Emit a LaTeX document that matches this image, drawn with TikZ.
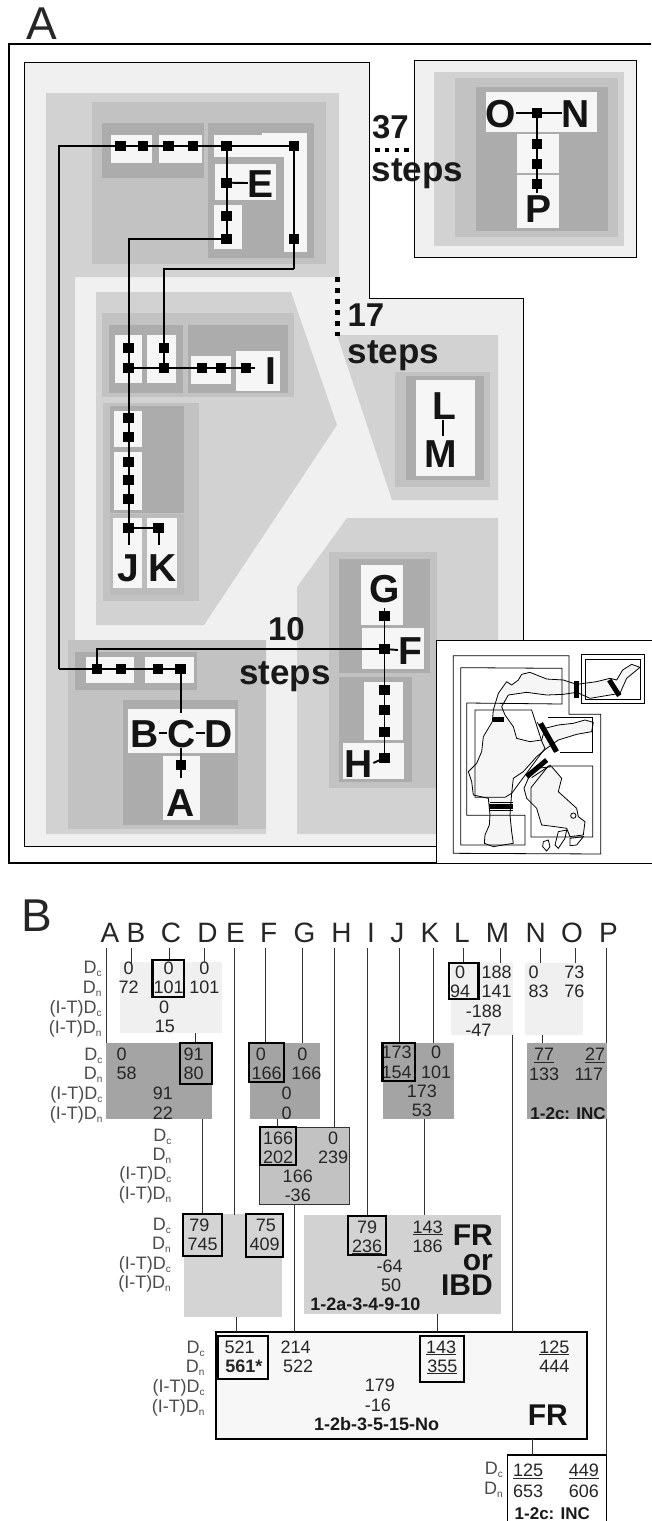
\documentclass[tikz,border=0pt]{standalone}
\usepackage{fontspec}
\setmainfont{Liberation Sans}
\definecolor{bgA}{HTML}{F0F0F0}
\definecolor{gA}{HTML}{D2D2D2}
\definecolor{gB}{HTML}{C2C2C2}
\definecolor{gC}{HTML}{ACACAC}
\definecolor{gD}{HTML}{A4A4A4}
\definecolor{wbox}{HTML}{F6F6F6}
\newcommand{\fsz}[1]{\fontsize{#1}{#1}\selectfont}
\newcounter{nc}
% number nodes placed by crop coordinates
\newcommand{\nmA}[3]{\stepcounter{nc}\node[numtxt] (nm\arabic{nc}) at ({#1/2.408},{880+#2/3}) {#3};}
\newcommand{\nmB}[3]{\stepcounter{nc}\node[numtxt] (nm\arabic{nc}) at ({#1/2.408},{1200+#2/3}) {#3};}
\newcommand{\Dc}{D\raisebox{-3pt}{\fsz{10}c}}
\newcommand{\Dn}{D\raisebox{-3pt}{\fsz{10}n}}
\newcommand{\ITc}{(I-T)\Dc}
\newcommand{\ITn}{(I-T)\Dn}
% four-row label block: right edge, y of each row
\newcommand{\labs}[6]{%
 \node[labtxt] (la#1a) at (#2,#3) {\Dc};
 \node[labtxt] (la#1b) at (#2,#4) {\Dn};
 \node[labtxt] (la#1c) at (#2,#5) {\ITc};
 \node[labtxt] (la#1d) at (#2,#6) {\ITn};}
% vertical connector between two named coordinates
\newcommand{\conn}[4]{%
 \coordinate (#1t) at (#2,#3);
 \coordinate (#1b) at (#2,#4);
 \draw[tree] (#1t) -- (#1b);}
\tikzset{
 sq/.style={fill=black,inner sep=0pt,minimum width=10.5pt,minimum height=10pt},
 path1/.style={black,line width=1.9pt},
 thinl/.style={black,line width=1.1pt},
 letter/.style={font=\fsz{39}\bfseries,inner sep=0pt,text height=28pt,text depth=0pt,text=black!92},
 steptxt/.style={font=\fsz{33}\bfseries,inner sep=0pt,text=black!90},
 stepword/.style={font=\fsz{35}\bfseries,inner sep=0pt,text=black!90,text height=25pt,text depth=7pt},
 dots/.style={black,line width=5pt,dash pattern=on 5pt off 6pt},
 dotsh/.style={black,line width=4.5pt,dash pattern=on 4.5pt off 5.3pt},
 numtxt/.style={font=\fsz{18},inner sep=0pt,text height=12.8pt,text depth=0pt,text=black!85},
 labtxt/.style={font=\fsz{18},inner sep=0pt,anchor=east,text=black!70,text height=13pt,text depth=0pt},
 boldsm/.style={font=\fsz{18}\bfseries,inner sep=0pt,text=black!90,text height=13pt,text depth=0pt},
 bigbold/.style={font=\fsz{30}\bfseries,inner sep=0pt,text=black!92},
 headl/.style={font=\fsz{28},inner sep=0pt,text=black!85,text height=20pt,text depth=0pt},
 panel/.style={font=\fsz{46},inner sep=0pt,text=black!85,text height=33pt,text depth=0pt},
 tree/.style={black!80,line width=.9pt},
 hbox/.style={black,line width=2.2pt},
 mapl/.style={black,line width=.8pt},
 mapb/.style={black,line width=5pt},
}
\begin{document}
\begin{tikzpicture}[x=1pt,y=-1pt]
\useasboundingbox (0,0) rectangle (651,1521);
\fill[white] (0,0) rectangle (651,1521);

% ---------------- panel A ----------------
\node[panel] (pA) at (41.5,23) {A};
\draw[black,line width=1.5pt] (651,44) -- (9,44) -- (9,863) -- (651,863);

% main region
\draw[black,line width=.9pt,fill=bgA] (24.5,62) -- (369.6,62) -- (369.6,298.5) -- (523,298.5) -- (523,846.7) -- (24.5,846.7) -- cycle;
% light band
\fill[gA] (46,93) -- (339,93) -- (339,277) -- (75,277) -- (75,640) -- (266,640) -- (266,834) -- (46,834) -- cycle;
% I/J/K polygon
\fill[gA] (96,292) -- (291,292) -- (337,425) -- (204,625) -- (96,625) -- cycle;
% L-M polygon
\fill[gA] (337,335) -- (498,335) -- (498,500) -- (392,500) -- cycle;
% F-H polygon
\fill[gA] (347,518) -- (498,518) -- (498,834) -- (297,834) -- (297,587) -- cycle;

% upper block
\fill[gB] (92,102) rectangle (326,264);
\fill[gC] (102,123) rectangle (203.5,178);
\fill[gC] (208,123) rectangle (313.5,258);
\fill[wbox] (110.5,135) rectangle (152.4,163);
\fill[wbox] (159,135) rectangle (202,163);
\fill[wbox] (214,135) rectangle (306.5,157);
\fill[wbox] (262,133) rectangle (306.5,157);
\fill[wbox] (283.6,133) rectangle (306.5,252);
\fill[wbox] (215,164) rectangle (276,200);
\fill[wbox] (214,205) rectangle (242,249);

% I row block
\fill[gB] (102,313) rectangle (293.6,397);
\fill[gC] (109,325) rectangle (183,393);
\fill[gC] (188,325) rectangle (288,393);
\fill[wbox] (114.6,335) rectangle (142.4,383);
\fill[wbox] (147.4,335) rectangle (175.7,383);
\fill[wbox] (191,356) rectangle (230.5,384);
\fill[wbox] (235.5,351) rectangle (280,391);

% J/K block
\fill[gB] (103,403) rectangle (198.5,601);
\fill[gC] (110,406) rectangle (184,513);
\fill[gB!70!gC] (110,514) rectangle (184,595);
\fill[wbox] (114,411) rectangle (142.4,447);
\fill[wbox] (114,452) rectangle (142.4,510);
\fill[wbox] (113,518) rectangle (142.4,588);
\fill[wbox] (147.4,518) rectangle (176.5,588);

% L-M block
\fill[gB] (394.5,372) rectangle (490,487);
\fill[gC] (406,376) rectangle (484,480);
\fill[wbox] (416,380) rectangle (474.6,476);

% F-H block
\fill[gB] (329,552) rectangle (437,788);
\fill[gC] (339,559) rectangle (430,673);
\fill[gC] (339,677) rectangle (412,782);
\fill[wbox] (361,565) rectangle (403,625);
\fill[wbox] (362,628) rectangle (423.6,669);
\fill[wbox] (364,682) rectangle (403,740);
\fill[wbox] (342.6,743) rectangle (403.6,779);

% bottom left block
\fill[gB] (68,640) rectangle (266,829);
\fill[gC] (75,652) rectangle (197,690);
\fill[wbox] (86,657) rectangle (133.7,683);
\fill[wbox] (145,657) rectangle (194,683);
\fill[gC] (122.5,700) rectangle (237.5,825);
\fill[wbox] (128,709) rectangle (235,753);
\fill[wbox] (163,756) rectangle (200,820);

% top right panel
\draw[black,line width=.9pt,fill=bgA] (414,60) rectangle (636,257);
\fill[gA] (433.6,72) rectangle (624,246);
\fill[gB] (455,78) rectangle (617.5,237);
\fill[gC] (476,87) rectangle (607.5,231);
\fill[wbox] (486,92) rectangle (597,132);
\fill[wbox] (516.6,134) rectangle (559,173);
\fill[wbox] (516.6,175) rectangle (559,228);

% squares
\foreach \nam/\px/\py in {t1/120.4/146,t2/143/146,t3/168.6/146,t4/193/146,t5/226.7/146,t6/294/146,
 e1/226.7/182.7,e2/226.7/216,e3/226.7/238.7,r1/294/238.7,
 j1/128.7/348,i2/164/348,j2/128.7/368,i3/164/368,k1/202/368,k2/221/368,k3/246/368,
 j3/128.7/418,j4/128.7/437,j5/128.7/462,j6/128.7/480,j7/128.7/499,j8/128.7/528,kk/158.6/528,
 b1/97/669,b2/121/669,b3/158/669,b4/180.6/669,
 f1/384.5/616,f2/384.5/649,f3/384.5/690,f4/384.5/710,f5/384.5/732,f6/384.5/758,
 n1/537/113,p1/537/144,p2/537/164,p3/537/184,a1/181/765}
 {\node[sq] (\nam) at (\px,\py) {};}

% letters
\node[letter] (lO) at (501,113) {O};
\node[letter] (lN) at (576,113) {N};
\node[letter] (lP) at (538.6,208) {P};
\node[letter] (lE) at (261,183) {E};
\node[letter] (lI) at (271,370) {I};
\node[letter] (lJ) at (128,567) {J};
\node[letter] (lK) at (163,567) {K};
\node[letter] (lL) at (444,405) {L};
\node[letter] (lM) at (441,453) {M};
\node[letter] (lG) at (385,588) {G};
\node[letter] (lF) at (410,650) {F};
\node[letter] (lH) at (359,763) {H};
\node[letter] (lB) at (144.5,733) {B};
\node[letter] (lC) at (181.5,733) {C};
\node[letter] (lD) at (219,733) {D};
\node[letter] (lA) at (180.6,802) {A};

% path coordinates
\coordinate (c1) at (59.4,146);
\coordinate (c2) at (59.4,669);
\coordinate (c3) at (97,649);
\coordinate (cr) at (294,269);
\coordinate (iend) at (255,368);
\coordinate (jend) at (128.7,545);
\coordinate (kend) at (158.6,545);
\coordinate (bc) at (180.6,713);
\coordinate (gtop) at (384.5,608);
\coordinate (atop) at (181,748);
\coordinate (abot) at (181,778);
\coordinate (pbot) at (537,193);
\coordinate (lmt) at (443,420);
\coordinate (lmb) at (443,436);

% connectors
\draw[path1] (c2) -- (c1) -- (t1.center) -- (t2.center) -- (t3.center) -- (t4.center) -- (t5.center) -- (t6.center);
\draw[path1] (c2) -- (b1.center) -- (b2.center) -- (b3.center) -- (b4.center) -- (bc);
\draw[path1] (b1.center) -- (c3) -- (f2.center);
\draw[path1] (t5.center) -- (e1.center) -- (e2.center) -- (e3.center);
\draw[path1] (e3.center) -| (j1.center);
\draw[path1] (t6.center) -- (r1.center) -- (cr);
\draw[path1] (cr) -| (i2.center);
\draw[path1] (e1.center) -- (lE.west);
\draw[path1] (j1.center) -- (j2.center) -- (j3.center) -- (j4.center) -- (j5.center) -- (j6.center) -- (j7.center) -- (j8.center) -- (jend);
\draw[path1] (i2.center) -- (i3.center);
\draw[path1] (j2.center) -- (i3.center) -- (k1.center) -- (k2.center) -- (k3.center) -- (iend);
\draw[path1] (j8.center) -- (kk.center) -- (kend);
\draw[path1] (gtop) -- (f1.center) -- (f2.center) -- (f3.center) -- (f4.center) -- (f5.center) -- (f6.center);
\draw[path1] (f2.center) -- (lF.west);
\draw[path1] (f6.center) -- (lH.east);
\draw[path1] (lO.east) -- (n1.center) -- (lN.west);
\draw[path1] (n1.center) -- (p1.center) -- (p2.center) -- (p3.center) -- (pbot);
\draw[path1] (atop) -- (a1.center) -- (abot);
\draw[thinl] (lmt) -- (lmb);
\draw[thinl] (lB.east) -- (lC.west);
\draw[thinl] (lC.east) -- (lD.west);

% step labels
\node[steptxt] (s37) at (390.5,127) {37};
\coordinate (d1a) at (375,150); \coordinate (d1b) at (409.5,150);
\draw[dotsh] (d1a) -- (d1b);
\node[stepword] (s37b) at (417.5,172) {steps};
\coordinate (d2a) at (337.6,277); \coordinate (d2b) at (337.6,336);
\draw[dots] (d2a) -- (d2b);
\node[steptxt] (s17) at (366,315) {17};
\node[stepword] (s17b) at (393.5,354) {steps};
\node[steptxt] (s10) at (286.5,629) {10};
\node[stepword] (s10b) at (285,675) {steps};

% inset map
\draw[black,line width=1pt,fill=white] (660,640) -- (436,640) -- (436,863) -- (660,863);
\begin{scope}[shift={(430,635)},x=.3333pt,y=-.3333pt]
\fill[bgA!60!white,draw=black,line width=.8pt,line join=round]
 (630,97) -- (605,88) -- (578,105) -- (560,135) -- (540,130) -- (500,140) -- (440,148) -- (400,135) -- (350,132) -- (300,112) -- (275,118) -- (265,135) -- (245,150) -- (230,140) -- (205,175) -- (190,225) -- (187,260) -- (160,305) -- (155,350) -- (140,385) -- (115,410) -- (125,440) -- (130,480) -- (175,490) -- (180,540) -- (178,570) -- (165,600) -- (163,625) -- (190,635) -- (250,625) -- (245,590) -- (240,540) -- (245,475) -- (250,430) -- (280,410) -- (320,365) -- (350,340) -- (385,315) -- (440,298) -- (485,290) -- (490,262) -- (465,255) -- (430,265) -- (385,270) -- (345,280) -- (335,315) -- (300,320) -- (260,310) -- (250,275) -- (225,240) -- (215,215) -- (235,180) -- (290,172) -- (350,180) -- (400,178) -- (440,172) -- (480,190) -- (540,180) -- (570,175) -- (590,130) -- cycle;
\fill[bgA!60!white,draw=black,line width=.8pt,line join=round]
 (365,395) -- (395,430) -- (385,470) -- (440,520) -- (445,545) -- (465,560) -- (460,600) -- (420,605) -- (410,580) -- (375,575) -- (335,570) -- (320,520) -- (290,490) -- (282,460) -- (295,430) -- (320,400) -- cycle;
\draw[mapl] (340,620) -- (355,615) -- (360,635) -- (350,648) -- (338,635) -- cycle;
\draw[mapl] (385,590) -- (410,585) -- (405,610) -- (385,640) -- (375,630) -- cycle;
\draw[mapl] (420,610) -- (460,605) -- (440,630) -- (420,632) -- cycle;
\draw[mapl] (430,542) circle (8);
% frames
\draw[mapl] (70,62) -- (417,62) -- (417,238) -- (512,238) -- (512,657) -- (70,655) -- cycle;
\draw[mapl] (92,98) -- (396,100) -- (396,207) -- (110,204) -- (110,541) -- (285,541) -- (285,630) -- (92,630) -- cycle;
\draw[mapl] (135,225) -- (305,225) -- (335,318) -- (345,340) -- (245,475) -- (225,487) -- (135,487) -- cycle;
\draw[mapl] (455,58) rectangle (642,205);
\draw[mapl] (467,74) rectangle (630,194);
\draw[mapl] (353,248) -- (488,248) -- (488,352) -- (390,352);
\draw[mapl] (303,458) -- (355,393) -- (488,393) -- (488,606) -- (303,606) -- cycle;
% bars
\draw[mapb] (441,138) -- (441,190);
\draw[mapb] (538,135) -- (568,182);
\draw[mapb] (190,252) -- (222,252);
\draw[mapb] (332,265) -- (380,350);
\draw[mapb] (290,425) -- (350,375);
\draw[mapb] (178,514) -- (250,514);
\draw[mapl] (180,503) -- (248,503);
\draw[mapl] (180,525) -- (248,525);
\draw[mapl] (322,262) -- (372,350);
\draw[mapl] (305,428) -- (362,390);
\end{scope}

% ---------------- panel B ----------------
\node[panel] (pB) at (37,915) {B};
\foreach \lt/\px in {A/110,B/136,C/171,D/207.6,E/235.5,F/268.7,G/304.4,H/341.4,I/371,J/397.4,K/430,L/462,M/497.5,N/535.7,O/572,P/608.4}
 {\node[headl] (h\lt) at (\px,932) {\lt};}

% shaded nodes
\fill[bgA] (119.6,962) rectangle (222,1033);
\fill[bgA] (450.6,963) rectangle (513,1035);
\fill[bgA] (525,963) rectangle (582.6,1035);
\fill[gD] (106,1043) rectangle (212,1119);
\fill[gD] (250,1043) rectangle (320,1119);
\fill[gD] (383,1043) rectangle (453.5,1119);
\fill[gD] (527.4,1043) rectangle (607,1119);
\draw[black!80,line width=.8pt,fill=gB] (259.6,1127) rectangle (349,1204);
\fill[gA!95!white] (183.5,1214) rectangle (281.6,1317);
\fill[gA] (304.4,1215) rectangle (501,1314);
\fill[white!97!black] (216,1332) rectangle (587,1439);
\draw[black,line width=1.3pt] (216,1332) rectangle (587,1439);
\draw[black,line width=1.2pt] (507.5,1530) -- (507.5,1455) -- (606.7,1455) -- (606.7,1530);

% tree connectors
\conn{cA}{106}{948}{1043}
\conn{cB}{131.6}{948}{963}
\conn{cC}{169.4}{948}{960}
\conn{cD}{204}{948}{962}
\conn{cBD}{195}{1033}{1043}
\conn{cAD}{202}{1119}{1214}
\conn{cE}{234.6}{948}{1215}
\conn{cF}{265.4}{948}{1043}
\conn{cG}{302.3}{948}{1043}
\conn{cFG}{277.4}{1119}{1127}
\conn{cH}{334.3}{948}{1127}
\conn{cFH}{294.4}{1204}{1332}
\conn{cI}{367.5}{948}{1216}
\conn{cJ}{399.5}{948}{1043}
\conn{cK}{433}{948}{1043}
\conn{cJK}{424}{1119}{1215}
\conn{cL}{463}{948}{963}
\conn{cM}{500}{948}{963}
\conn{cLM}{512.5}{1035}{1332}
\conn{cN}{540}{948}{963}
\conn{cO}{575}{948}{963}
\conn{cNO}{542.8}{1035}{1043}
\conn{cP}{606.7}{948}{1043}
\conn{cNP}{606.7}{1119}{1455}
\conn{cQ}{236.3}{1317}{1332}
\conn{cR}{437.7}{1314}{1332}
\conn{cS}{532.8}{1439}{1455}

% row labels
\labs{1}{101.7}{967}{987}{1007}{1027}
\labs{2}{102.6}{1054}{1073}{1093}{1113}
\labs{3}{171.5}{1135}{1154}{1173}{1193}
\labs{4}{171}{1224}{1243}{1263}{1282}
\labs{5}{204.7}{1347}{1366}{1386}{1406}
\node[labtxt] (la6a) at (503,1468) {\Dc};
\node[labtxt] (la6b) at (503,1488) {\Dn};

% numbers, row 1
\nmA{310}{263}{0}\nmA{310}{322}{72}\nmA{406}{263}{0}\nmA{406}{322}{101}\nmA{492}{263}{0}\nmA{492}{322}{101}\nmA{395}{380}{0}\nmA{397}{438}{15}
\nmA{1108}{275}{0}\nmA{1196}{275}{188}\nmA{1108}{333}{\underline{94}}\nmA{1196}{333}{141}\nmA{1165}{393}{-188}\nmA{1152}{450}{-47}
\nmA{1285}{275}{0}\nmA{1383}{275}{73}\nmA{1297}{333}{83}\nmA{1383}{333}{76}
% row 2
\nmA{293}{522}{0}\nmA{305}{580}{58}\nmA{466}{522}{91}\nmA{466}{580}{80}\nmA{392}{640}{91}\nmA{392}{698}{22}
\nmA{628}{522}{0}\nmA{642}{580}{\underline{166}}\nmA{728}{522}{0}\nmA{738}{580}{166}\nmA{690}{640}{0}\nmA{690}{698}{0}
\nmA{955}{516}{173}\nmA{955}{576}{154}\nmA{1050}{516}{0}\nmA{1050}{576}{101}\nmA{1016}{632}{173}\nmA{1016}{690}{53}
\nmA{1310}{522}{\underline{77}}\nmA{1310}{582}{133}\nmA{1433}{522}{\underline{27}}\nmA{1418}{582}{117}
\node[boldsm,font=\fsz{17}\bfseries] (t12c) at ({1368/2.408},{880+700/3}) {1-2c: INC};
% row 3
\nmA{670}{773}{166}\nmA{670}{830}{\underline{202}}\nmA{802}{773}{0}\nmA{802}{830}{239}\nmA{717}{889}{166}\nmA{717}{945}{-36}
% row 4
\nmB{480}{75}{79}\nmB{488}{133}{745}\nmB{640}{75}{75}\nmB{637}{132}{409}
\nmB{884}{80}{79}\nmB{884}{137}{\underline{236}}\nmB{1030}{80}{\underline{143}}\nmB{1030}{137}{186}\nmB{938}{197}{-64}\nmB{942}{255}{50}
\node[boldsm] (t12a) at ({880/2.408},{1200+312/3}) {1-2a-3-4-9-10};
\node[bigbold,anchor=east,align=right,font=\fontsize{30}{25}\selectfont\bfseries] (fr1) at (493,1260) {FR\\or\\IBD};
% row 5
\nmB{577}{440}{521}
\node[numtxt,font=\fsz{18}\bfseries] (n561) at ({587/2.408},{1200+497/3}) {561*};
\nmB{712}{440}{214}\nmB{718}{497}{522}\nmB{1062}{440}{\underline{143}}\nmB{1065}{497}{\underline{355}}\nmB{1335}{440}{\underline{125}}\nmB{1335}{497}{444}
\nmB{915}{555}{179}\nmB{910}{614}{-16}
\node[boldsm] (t12b) at ({907/2.408},{1200+672/3}) {1-2b-3-5-15-No};
\node[bigbold,anchor=east,text height=22pt,text depth=0pt] (fr2) at (568,1414) {FR};
% row 6
\nmB{1272}{810}{\underline{125}}\nmB{1272}{873}{653}\nmB{1406}{810}{\underline{449}}\nmB{1406}{873}{606}
\node[boldsm,font=\fsz{17}\bfseries] (t12d) at ({1330/2.408},{1200+940/3}) {1-2c: INC};

% heavy boxes
\draw[hbox] (152.4,960) rectangle (184,997);
\draw[hbox] (449.3,963) rectangle (478.4,999);
\draw[hbox] (180,1043) rectangle (212,1084);
\draw[hbox] (249,1043) rectangle (284,1082);
\draw[hbox] (382.5,1043) rectangle (415,1081);
\draw[hbox] (259.6,1127) rectangle (295.7,1165);
\draw[hbox] (183,1214) rectangle (222,1256);
\draw[hbox] (246,1214) rectangle (283,1257);
\draw[hbox] (348,1216) rectangle (386,1255);
\draw[hbox] (217.6,1336) rectangle (268,1379);
\draw[hbox] (420,1336) rectangle (464,1382);
\end{tikzpicture}
\end{document}
